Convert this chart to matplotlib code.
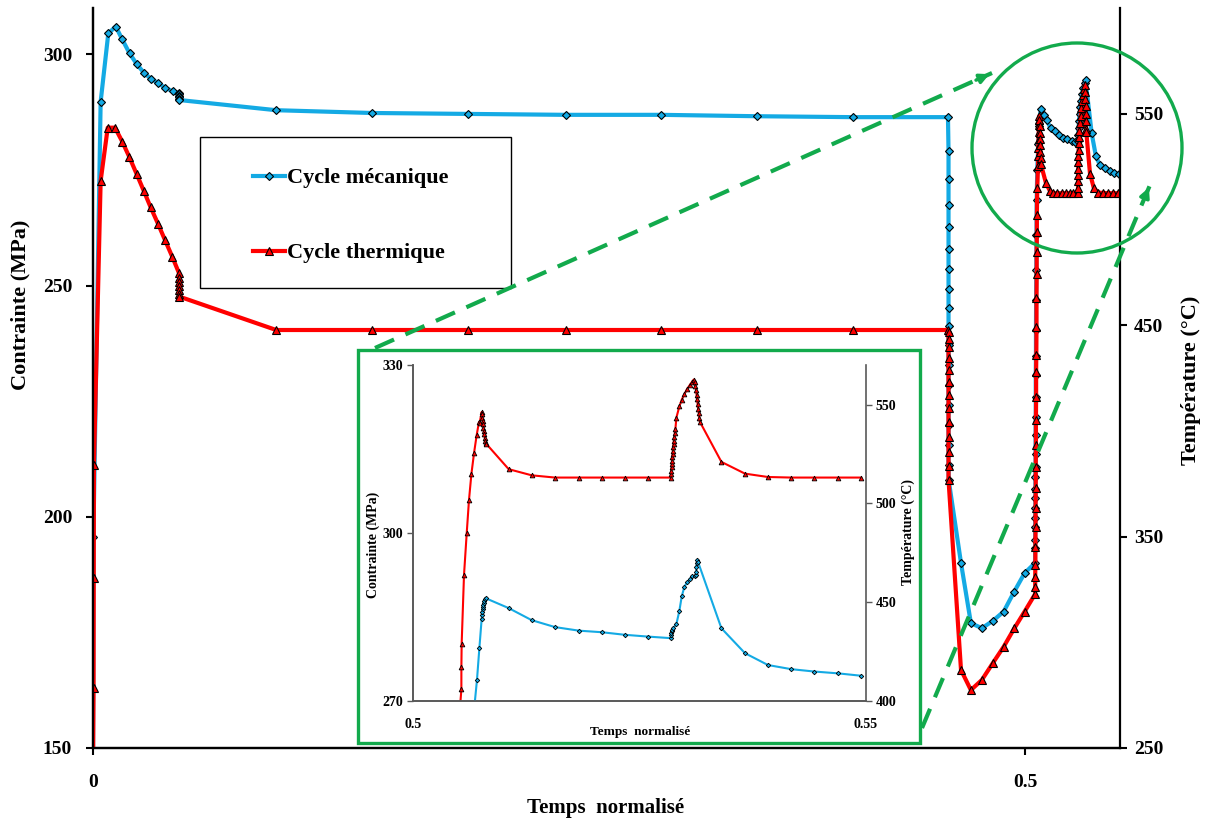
import matplotlib
matplotlib.use('Agg')
import matplotlib.pyplot as plt
from matplotlib.lines import Line2D
from matplotlib.patches import Rectangle, Circle, FancyArrowPatch

plt.rcParams['font.family'] = ['Liberation Serif', 'DejaVu Serif']
plt.rcParams['font.weight'] = 'bold'

# ---------------- data: main chart ----------------
# Cycle mécanique (Contrainte, MPa, left axis)
mech_x = [0.0000, 0.0002, 0.0041, 0.0082, 0.0122, 0.0157, 0.0196, 0.0236, 0.0273,
          0.0311, 0.0349, 0.0388, 0.0428, 0.0459, 0.0460, 0.0461, 0.0462, 0.0463,
          0.0464, 0.0983, 0.1497, 0.2012, 0.2538, 0.3047, 0.3562, 0.4077, 0.4587,
          0.4590, 0.4590, 0.4590, 0.4590, 0.4590, 0.4590, 0.4590, 0.4590, 0.4590,
          0.4590, 0.4590, 0.4590, 0.4590, 0.4590, 0.4590, 0.4590, 0.4591,
          0.4657, 0.4710, 0.4769, 0.4828, 0.4886, 0.4941, 0.4998, 0.5054,
          0.5055, 0.5055, 0.5055, 0.5055, 0.5056, 0.5056, 0.5056, 0.5056, 0.5057,
          0.5057, 0.5057, 0.5058, 0.5058, 0.5058, 0.5059, 0.5059, 0.5060, 0.5061,
          0.5062, 0.5063, 0.5066, 0.5072, 0.5078, 0.5084,
          0.5102, 0.5116, 0.5138, 0.5161, 0.5184, 0.5206, 0.5227, 0.5251, 0.5268,
          0.5284, 0.5286, 0.5288, 0.5290, 0.5293, 0.5297, 0.5302, 0.5308, 0.5314,
          0.5320, 0.5325,
          0.5358, 0.5381, 0.5402, 0.5429, 0.5456, 0.5479, 0.5504]
mech_y = [140.0, 195.6, 289.7, 304.5, 306.0, 303.2, 300.2, 297.8, 296.0,
          294.7, 293.8, 292.7, 292.0, 291.6, 291.3, 291.0, 290.7, 290.4,
          290.1, 287.9, 287.3, 287.1, 286.9, 286.9, 286.6, 286.4, 286.4,
          279.1, 273.0, 267.4, 262.6, 257.9, 253.6, 249.2, 245.2, 241.2,
          237.1, 232.8, 228.5, 224.2, 219.8, 215.5, 211.2, 207.9,
          190.0, 177.0, 175.9, 177.5, 179.5, 183.7, 187.8, 190.0,
          193.2, 195.0, 197.8, 199.7, 201.8, 204.0, 206.1, 208.6, 210.8,
          213.6, 217.7, 221.6, 226.0, 230.6, 234.8, 240.4, 246.9, 253.4,
          261.0, 268.5, 275.0, 280.5, 284.5, 288.1,
          286.9, 285.8, 284.0, 283.3, 282.5, 282.0, 281.6, 281.2, 281.0,
          281.3, 282.5, 284.0, 285.5, 287.0, 288.5, 290.0, 291.5, 292.8,
          293.8, 294.4,
          282.9, 277.9, 276.1, 275.3, 274.8, 274.4, 274.1]

# Cycle thermique (Température, °C, right axis)
therm_x = [0.0000, 0.0003, 0.0004, 0.0005, 0.0041, 0.0079, 0.0118, 0.0157, 0.0194,
           0.0234, 0.0272, 0.0309, 0.0349, 0.0386, 0.0425, 0.0461, 0.0462, 0.0462,
           0.0462, 0.0463, 0.0463, 0.0463, 0.0983, 0.1497, 0.2012, 0.2538, 0.3047,
           0.3562, 0.4077, 0.4587,
           0.4590, 0.4590, 0.4590, 0.4590, 0.4590, 0.4590, 0.4590, 0.4590, 0.4590,
           0.4590, 0.4590, 0.4590, 0.4590,
           0.4657, 0.4710, 0.4769, 0.4828, 0.4886, 0.4943, 0.4998, 0.5054,
           0.5055, 0.5055, 0.5056, 0.5056, 0.5057, 0.5057, 0.5058, 0.5058, 0.5059,
           0.5059, 0.5060, 0.5060, 0.5061, 0.5062, 0.5062, 0.5063, 0.5063, 0.5064,
           0.5064, 0.5066, 0.5070, 0.5071, 0.5072, 0.5073, 0.5074, 0.5075, 0.5076,
           0.5077, 0.5078, 0.5079, 0.5080, 0.5081, 0.5082, 0.5083, 0.5084, 0.5086,
           0.5113, 0.5134, 0.5152, 0.5173, 0.5197, 0.5218, 0.5241, 0.5258, 0.5284,
           0.5285, 0.5285, 0.5286, 0.5286, 0.5287, 0.5287, 0.5288, 0.5289, 0.5290,
           0.5292, 0.5295, 0.5299, 0.5303, 0.5308, 0.5313, 0.5318, 0.5322,
           0.5323, 0.5324, 0.5325, 0.5326, 0.5327, 0.5328, 0.5329,
           0.5349, 0.5370, 0.5394, 0.5421, 0.5448, 0.5474, 0.5501]
therm_y = [240.0, 278.4, 330.4, 383.9, 518.2, 543.4, 543.4, 536.8, 529.7,
           521.5, 513.6, 505.8, 497.9, 490.3, 482.4, 474.7, 472.5, 470.5,
           468.5, 466.5, 464.7, 463.5, 447.7, 447.7, 447.7, 447.7, 447.7,
           447.7, 447.7, 447.7,
           446.9, 443.3, 439.8, 434.3, 428.8, 423.2, 417.0, 410.6, 404.3,
           397.2, 390.1, 383.5, 376.8,
           286.9, 277.4, 282.2, 290.2, 297.9, 306.6, 314.5, 322.7,
           326.3, 331.0, 336.6, 345.2, 354.7, 363.4, 372.9, 383.1, 393.3,
           405.2, 416.2, 428.0, 435.9, 449.0, 462.7, 474.0, 484.8, 494.0,
           502.1, 514.9, 525.3, 530.0, 534.0, 538.0, 541.5, 544.5, 547.0,
           549.0, 547.0, 544.0, 541.0, 538.0, 535.0, 532.0, 529.0, 526.0,
           517.1, 513.5, 512.4, 512.4, 512.4, 512.4, 512.4, 512.4, 512.4,
           515.0, 518.0, 521.0, 524.0, 527.0, 530.0, 533.0, 536.0, 539.0,
           542.0, 545.5, 549.0, 552.5, 556.0, 559.0, 561.5, 563.6,
           560.5, 557.0, 553.5, 550.0, 546.5, 543.0, 541.5,
           521.7, 514.7, 512.7, 512.5, 512.4, 512.4, 512.4]

# ---------------- data: inset (zoom 0.5 - 0.55) ----------------
inset_red_x = [0.50515, 0.50534, 0.50534, 0.50537, 0.50563, 0.50593, 0.50618, 0.50645,
               0.50674, 0.50703, 0.50728, 0.50736, 0.50758, 0.50762, 0.50766, 0.50770,
               0.50774, 0.50778, 0.50782, 0.50787, 0.50792, 0.50797, 0.50803, 0.50810,
               0.51056, 0.51310, 0.51567, 0.51829, 0.52083, 0.52337, 0.52590, 0.52844,
               0.52848, 0.52851, 0.52854, 0.52857, 0.52860, 0.52863, 0.52866, 0.52869,
               0.52872, 0.52876, 0.52880, 0.52885, 0.52890, 0.52896, 0.52907, 0.52940,
               0.52966, 0.52996, 0.53025, 0.53054, 0.53080, 0.53098, 0.53112, 0.53118,
               0.53124, 0.53130, 0.53136, 0.53142, 0.53148, 0.53155, 0.53160, 0.53165,
               0.53404, 0.53664, 0.53918, 0.54176, 0.54431, 0.54688, 0.54942]
inset_red_y = [268.0, 272.1, 276.0, 280.2, 292.5, 300.0, 305.9, 310.6,
               314.3, 317.5, 319.8, 319.7, 321.6, 321.2, 320.6, 320.0,
               319.4, 318.8, 318.2, 317.6, 317.0, 316.5, 316.1, 315.9,
               311.4, 310.3, 309.9, 309.9, 309.9, 309.9, 309.9, 309.9,
               310.5, 311.1, 311.7, 312.3, 312.9, 313.5, 314.1, 314.7,
               315.3, 315.9, 316.5, 317.1, 317.8, 318.5, 320.6, 322.6,
               323.8, 324.8, 325.7, 326.4, 327.0, 327.4, 327.0, 326.3,
               325.5, 324.7, 323.9, 323.0, 322.2, 321.4, 320.6, 319.9,
               312.7, 310.6, 310.0, 309.9, 309.9, 309.9, 309.9]

inset_blue_x = [0.50677, 0.50706, 0.50733, 0.50758, 0.50762, 0.50765, 0.50769, 0.50773,
                0.50777, 0.50782, 0.50787, 0.50793, 0.50802,
                0.51056, 0.51310, 0.51567, 0.51829, 0.52083, 0.52337, 0.52590, 0.52844,
                0.52848, 0.52852, 0.52857, 0.52862, 0.52870, 0.52907, 0.52940, 0.52966,
                0.52996, 0.53029, 0.53054, 0.53084, 0.53109, 0.53120, 0.53127, 0.53127,
                0.53134, 0.53134, 0.53145,
                0.53404, 0.53664, 0.53918, 0.54176, 0.54431, 0.54688, 0.54942]
inset_blue_y = [397.0, 410.6, 427.0, 441.6, 443.5, 445.0, 446.4, 447.7,
                448.8, 449.8, 450.7, 451.4, 452.0,
                447.0, 440.9, 437.4, 435.6, 434.8, 433.5, 432.6, 431.8,
                433.5, 434.5, 435.3, 436.0, 436.8, 438.9, 445.6, 452.9,
                457.9, 460.2, 461.7, 463.0, 463.0, 463.9, 465.5, 468.0,
                469.7, 471.4, 470.5,
                436.8, 424.2, 418.2, 416.1, 414.9, 414.0, 412.8]

# axis ticks / labels
main_xticks = [0, 0.5]
main_xticklabels = ['0', '0.5']
left_ticks = [150, 200, 250, 300]
right_ticks = [250, 350, 450, 550]
inset_xticks = [0.5, 0.55]
inset_xticklabels = ['0.5', '0.55']
inset_left_ticks = [270, 300, 330]
inset_right_ticks = [400, 450, 500, 550]
series_labels = ['Cycle mécanique', 'Cycle thermique']

# ---------------- styling ----------------
BLUE = '#14AAE4'
RED = '#FF0000'
GREEN = '#12AA4C'
W, H = 1211, 825


def fx(px):
    return px / W


def fy(py):
    return 1 - py / H


fig = plt.figure(figsize=(W / 100, H / 100), dpi=100)

ax = fig.add_axes([fx(93), fy(748), fx(1120) - fx(93), fy(8) - fy(748)])
ax2 = ax.twinx()

l1, = ax.plot(mech_x, mech_y, color=BLUE, lw=3, marker='D', ms=4.3,
              mfc=BLUE, mec='black', mew=0.8, label=series_labels[0])
l2, = ax2.plot(therm_x, therm_y, color=RED, lw=3, marker='^', ms=6.2,
               mfc=RED, mec='black', mew=0.8, label=series_labels[1])

ax.set_xlim(0, 0.551)
ax.set_ylim(150, 310)
ax2.set_ylim(250, 600)
ax.set_xticks(main_xticks)
ax.set_xticklabels(main_xticklabels)
ax.set_yticks(left_ticks)
ax2.set_yticks(right_ticks)

for a in (ax, ax2):
    a.spines['top'].set_visible(False)
    for s in a.spines.values():
        s.set_linewidth(1.6)
ax.spines['right'].set_visible(False)
ax.tick_params(axis='y', direction='out', length=5, width=1.5, labelsize=14, pad=10)
ax.tick_params(axis='x', direction='out', length=5, width=1.5, labelsize=14, pad=14)
ax2.tick_params(axis='y', direction='out', length=5, width=1.5, labelsize=14, pad=5)
for lab in ax.get_xticklabels() + ax.get_yticklabels() + ax2.get_yticklabels():
    lab.set_fontweight('bold')

fig.text(fx(606), fy(808), 'Temps  normalisé', ha='center', va='center',
         fontsize=15, fontweight='bold')
fig.text(fx(20), fy(305), 'Contrainte (MPa)', ha='center', va='center',
         rotation=90, fontsize=16, fontweight='bold')
fig.text(fx(1191), fy(380), 'Température (°C)', ha='center', va='center',
         rotation=90, fontsize=16, fontweight='bold')

# legend
fig.add_artist(Rectangle((fx(200), fy(288)), fx(511) - fx(200), fy(137) - fy(288),
                         transform=fig.transFigure, fill=False, ec='black', lw=1.0,
                         zorder=1))
ax2.legend(handles=[l1, l2], loc='center left', frameon=False,
           bbox_to_anchor=(fx(253), fy(215.5)), bbox_transform=fig.transFigure,
           prop={'family': ['Liberation Serif'], 'weight': 'bold', 'size': 16},
           handlelength=1.45, handletextpad=0.1, labelspacing=2.45, borderpad=0,
           borderaxespad=0, numpoints=1)

# inset frame
fig.add_artist(Rectangle((fx(358), fy(743)), fx(920) - fx(358), fy(350) - fy(743),
                         transform=fig.transFigure, fc='white', ec=GREEN, lw=2.4,
                         zorder=2))

axi = fig.add_axes([fx(413), fy(701), fx(866) - fx(413), fy(365) - fy(701)])
axi.set_zorder(3)
axi2 = axi.twinx()
axi2.set_zorder(4)
axi.patch.set_alpha(0)
axi2.patch.set_alpha(0)
axi.plot(inset_red_x, inset_red_y, color=RED, lw=1.5, marker='^', ms=3.4,
         mfc=RED, mec='black', mew=0.6)
axi2.plot(inset_blue_x, inset_blue_y, color=BLUE, lw=1.5, marker='D', ms=2.3,
          mfc=BLUE, mec='black', mew=0.6)
axi.set_xlim(0.5, 0.55)
axi.set_ylim(270, 330)
axi2.set_ylim(400, 570)
axi.set_xticks(inset_xticks)
axi.set_xticklabels(inset_xticklabels)
axi.set_yticks(inset_left_ticks)
axi2.set_yticks(inset_right_ticks)
for a in (axi, axi2):
    a.spines['top'].set_visible(False)
    for s in a.spines.values():
        s.set_color('#595959')
        s.set_linewidth(1.2)
axi.spines['right'].set_visible(False)
axi.tick_params(axis='y', direction='out', length=4, width=1, color='#595959',
                labelsize=10, pad=3)
axi.tick_params(axis='x', direction='out', length=0, labelsize=10, pad=12)
axi2.tick_params(axis='y', direction='out', length=4, width=1, color='#595959',
                 labelsize=10, pad=3)
for lab in axi.get_xticklabels() + axi.get_yticklabels() + axi2.get_yticklabels():
    lab.set_fontweight('bold')

fig.text(fx(640), fy(732), 'Temps  normalisé', ha='center', va='center',
         fontsize=9.5, fontweight='bold', zorder=6)
fig.text(fx(373), fy(545), 'Contrainte (MPa)', ha='center', va='center',
         rotation=90, fontsize=10, fontweight='bold', zorder=6)
fig.text(fx(908), fy(532), 'Température (°C)', ha='center', va='center',
         rotation=90, fontsize=10, fontweight='bold', zorder=6)

# zoom circle
fig.add_artist(Circle((10.77, (H - 148) / 100), 1.05, transform=fig.dpi_scale_trans,
                      fill=False, ec=GREEN, lw=2.4, zorder=6))

# dashed connectors
for (x0, y0), (x1, y1) in [((375, 348), (992, 73)), ((922, 728), (1150, 185))]:
    ln = Line2D([fx(x0), fx(x1)], [fy(y0), fy(y1)], transform=fig.transFigure,
                color=GREEN, lw=3, zorder=7)
    ln.set_dashes([5, 3])
    fig.add_artist(ln)
    dx, dy = x1 - x0, y1 - y0
    fig.add_artist(FancyArrowPatch((fx(x1 - 0.03 * dx), fy(y1 - 0.03 * dy)),
                                   (fx(x1), fy(y1)), transform=fig.transFigure,
                                   arrowstyle='-|>', mutation_scale=14, color=GREEN,
                                   lw=2.5, zorder=7))

fig.savefig('out.png', dpi=100)
